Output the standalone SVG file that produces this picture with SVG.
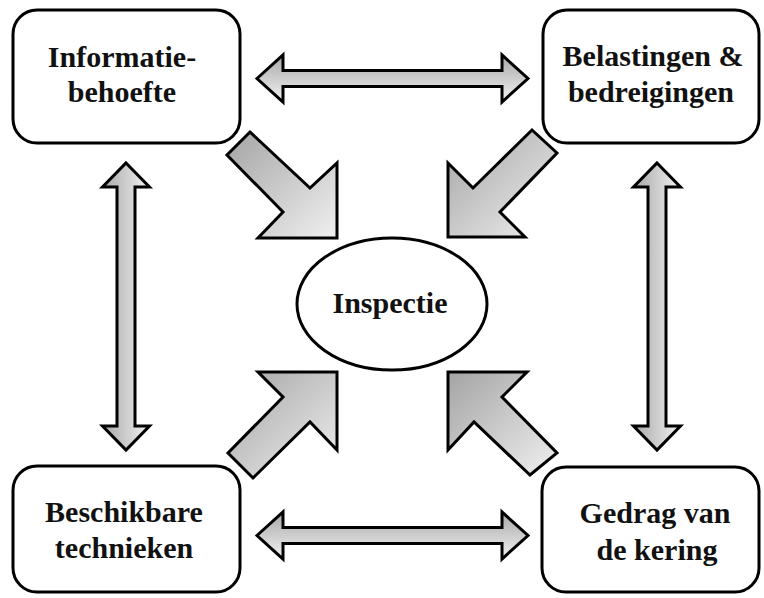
<svg xmlns="http://www.w3.org/2000/svg" width="764" height="598" viewBox="0 0 764 598">
<style>
.box{fill:#fff;stroke:#000;stroke-width:3}
.lbl{font-family:"Liberation Serif","Times New Roman",serif;font-weight:bold;font-size:30px;fill:#111;text-anchor:middle}
.arr{stroke:#000;stroke-width:3;stroke-linejoin:miter}
.diag{fill:url(#gd)}
.hz{fill:url(#gh)}
.vt{fill:url(#gv)}
</style>
<defs>
<linearGradient id="gd" x1="0" y1="0" x2="1" y2="1">
<stop offset="0" stop-color="#a4a4a4"/>
<stop offset="1" stop-color="#f0f0f0"/>
</linearGradient>
<linearGradient id="gh" x1="0" y1="0" x2="0" y2="1">
<stop offset="0" stop-color="#a8a8a8"/>
<stop offset="1" stop-color="#f2f2f2"/>
</linearGradient>
<linearGradient id="gv" x1="0" y1="0" x2="1" y2="0">
<stop offset="0" stop-color="#a8a8a8"/>
<stop offset="1" stop-color="#f2f2f2"/>
</linearGradient>
</defs>
<rect width="764" height="598" fill="#fff"/>
<g id="connectors">
<path class="arr hz" d="M257,78.5 L283,55 L283,70.5 L502,70.5 L502,55 L528,78.5 L502,102 L502,86.5 L283,86.5 L283,102 Z"/>
<path class="arr hz" d="M257,535.5 L283,512 L283,527.5 L502,527.5 L502,512 L528,535.5 L502,559 L502,543.5 L283,543.5 L283,559 Z"/>
<path class="arr vt" d="M126,163 L149.5,187 L135,187 L135,426 L149.5,426 L126,450 L102.5,426 L117,426 L117,187 L102.5,187 Z"/>
<path class="arr vt" d="M657,163 L680.5,187 L666,187 L666,426 L680.5,426 L657,450 L633.5,426 L648,426 L648,187 L633.5,187 Z"/>
<path class="arr diag" d="M337,238 L258,238 L283,212 L227,155 L250,132 L310,188 L337,163 Z"/>
<path class="arr diag" d="M448,237 L448,163 L473,188 L532,130 L557,153 L500,212 L525,237 Z"/>
<path class="arr diag" d="M337,372 L337,450 L310,422 L253,478 L228,453 L283,397 L258,372 Z"/>
<path class="arr diag" d="M448,372 L527,372 L502,397 L557,453 L530,475 L474,422 L448,450 Z"/>
</g>
<g id="informatiebehoefte">
<rect class="box" x="13" y="10" width="227" height="133" rx="24" ry="24"/>
<text class="lbl" x="122" y="67">Informatie-</text>
<text class="lbl" x="122" y="102">behoefte</text>
</g>
<g id="belastingen">
<rect class="box" x="543" y="10" width="216" height="133" rx="24" ry="24"/>
<text class="lbl" x="653" y="66">Belastingen &amp;</text>
<text class="lbl" x="651" y="102">bedreigingen</text>
</g>
<g id="technieken">
<rect class="box" x="13" y="466" width="227" height="126" rx="24" ry="24"/>
<text class="lbl" x="124" y="522">Beschikbare</text>
<text class="lbl" x="124" y="558">technieken</text>
</g>
<g id="gedrag">
<rect class="box" x="542" y="467" width="217" height="125" rx="24" ry="24"/>
<text class="lbl" x="655" y="523">Gedrag van</text>
<text class="lbl" x="657" y="560">de kering</text>
</g>
<g id="inspectie">
<ellipse class="box" cx="392" cy="304" rx="95" ry="66"/>
<text class="lbl" x="390" y="313">Inspectie</text>
</g>
</svg>
